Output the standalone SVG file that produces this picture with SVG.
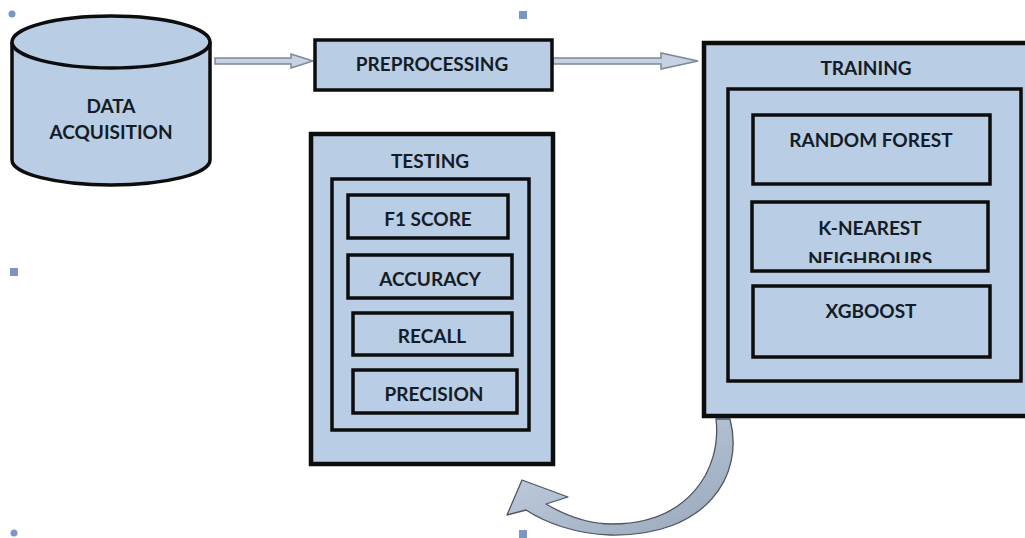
<svg xmlns="http://www.w3.org/2000/svg" width="1025" height="538" viewBox="0 0 1025 538">
<style>
.box{fill:#b9cde5;stroke:#0d0d0d;stroke-width:3.5}
.outer{fill:#b9cde5;stroke:#0d0d0d;stroke-width:4.5}
.lbl{font-family:Lato,"Liberation Sans",sans-serif;font-weight:bold;font-size:19px;fill:#141c26;text-anchor:middle}
.blk{fill:#c5d2e3;stroke:#7d8896;stroke-width:1.5}
.mk{fill:#7b95c4}
</style>
<defs>
<linearGradient id="cg" x1="0" y1="0" x2="1" y2="1">
<stop offset="0" stop-color="#c9d6e7"/>
<stop offset="1" stop-color="#97a6ba"/>
</linearGradient>
<clipPath id="knnclip"><rect x="752" y="200" width="240" height="63"/></clipPath>
</defs>

<g id="markers">
<circle class="mk" cx="12" cy="14" r="3.5"/>
<rect class="mk" x="519" y="11" width="8" height="8"/>
<rect class="mk" x="10" y="268" width="8" height="8"/>
<circle class="mk" cx="14" cy="533" r="3.5"/>
<rect class="mk" x="519" y="530" width="8" height="8"/>
</g>

<g id="connectors">
<path class="blk" d="M215 58 H291 V54 L313 61 L291 68 V64 H215 Z"/>
<path class="blk" d="M553 58 H661 V53 L698 61 L661 69 V64 H553 Z"/>
<path d="M730 419 C745 476 706 537 610 535 C576 534 546 523 526 510 L507 515 L522 480 L568 497 L546 504 C568 517 590 524 612 524 C688 524 722 470 716 419 Z" fill="url(#cg)" stroke="#4d5561" stroke-width="1.3" stroke-linejoin="round"/>
</g>

<g id="data-acquisition">
<path d="M12 42 V160 A99 25 0 0 0 210 160 V42" fill="#b9cde5" stroke="#0d0d0d" stroke-width="3.5"/>
<ellipse cx="111" cy="42" rx="99" ry="26" fill="#b9cde5" stroke="#0d0d0d" stroke-width="3.5"/>
<text class="lbl" x="111" y="113">DATA</text>
<text class="lbl" x="111" y="139">ACQUISITION</text>
</g>

<g id="preprocessing">
<rect class="box" x="315" y="40" width="237" height="50"/>
<text class="lbl" x="432" y="71">PREPROCESSING</text>
</g>

<g id="training">
<rect class="outer" x="704" y="43" width="325" height="373"/>
<text class="lbl" x="866" y="75">TRAINING</text>
<rect class="box" x="728" y="89" width="293" height="292"/>
</g>

<g id="random-forest">
<rect class="box" x="753" y="115" width="237" height="69"/>
<text class="lbl" x="871" y="147">RANDOM FOREST</text>
</g>

<g id="knn">
<rect x="752" y="202" width="236" height="69" fill="#b9cde5"/>
<text class="lbl" x="870" y="235">K-NEAREST</text>
<text class="lbl" x="870" y="266" clip-path="url(#knnclip)">NEIGHBOURS</text>
<rect x="752" y="202" width="236" height="69" fill="none" stroke="#0d0d0d" stroke-width="3.5"/>
</g>

<g id="xgboost">
<rect class="box" x="753" y="286" width="237" height="71"/>
<text class="lbl" x="871" y="318">XGBOOST</text>
</g>

<g id="testing">
<rect class="outer" x="311" y="134" width="242" height="330"/>
<text class="lbl" x="430" y="168">TESTING</text>
<rect class="box" x="332" y="179" width="197" height="251"/>
</g>

<g id="f1-score">
<rect class="box" x="348" y="195" width="160" height="43"/>
<text class="lbl" x="428" y="226">F1 SCORE</text>
</g>

<g id="accuracy">
<rect class="box" x="348" y="255" width="164" height="43"/>
<text class="lbl" x="430" y="286">ACCURACY</text>
</g>

<g id="recall">
<rect class="box" x="353" y="313" width="159" height="42"/>
<text class="lbl" x="432" y="343">RECALL</text>
</g>

<g id="precision">
<rect class="box" x="353" y="370" width="164" height="43"/>
<text class="lbl" x="434" y="401">PRECISION</text>
</g>
</svg>
